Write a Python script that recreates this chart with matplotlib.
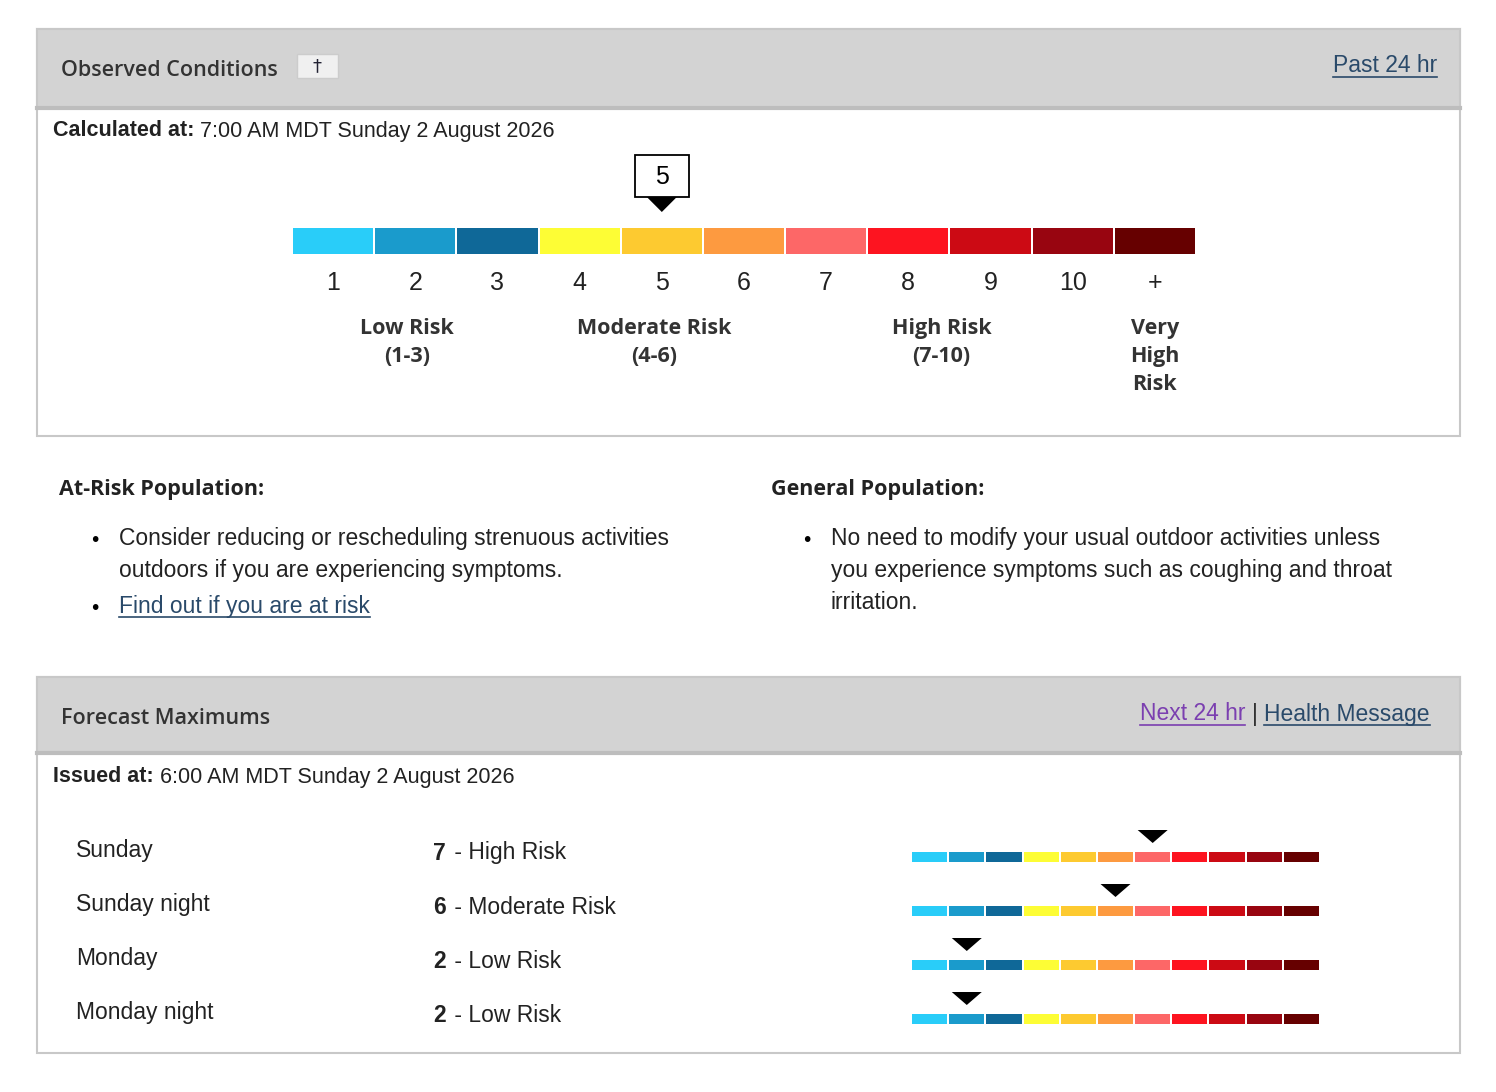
import matplotlib
matplotlib.use("Agg")
import matplotlib.pyplot as plt
from matplotlib.patches import Rectangle, Polygon

categories = ["1","2","3","4","5","6","7","8","9","10","+"]
colors = ["#29cdf9","#1a9bcc","#0f6898","#fdfd35","#fdca30","#fd9a40","#fd6767","#fd1420","#cc0a14","#980510","#660000"]
observed_value = 5
risk_groups = [("Low Risk\n(1-3)", 1, 3), ("Moderate Risk\n(4-6)", 4, 6), ("High Risk\n(7-10)", 7, 10), ("Very\nHigh\nRisk", 11, 11)]
forecast_periods = ["Sunday", "Sunday night", "Monday", "Monday night"]
forecast_values = [7, 6, 2, 2]
forecast_labels = ["High Risk", "Moderate Risk", "Low Risk", "Low Risk"]

fig = plt.figure(figsize=(14.96, 10.92), dpi=100)
ax = fig.add_axes([0, 0, 1, 1])
ax.set_xlim(0, 1496); ax.set_ylim(1092, 0); ax.axis("off")
H = ["Open Sans", "DejaVu Sans"]; B = ["Liberation Sans", "DejaVu Sans"]
dark = "#222222"
fig.canvas.draw()
R = fig.canvas.get_renderer()

def right_edge(t):
    bb = t.get_window_extent(R)
    return ax.transData.inverted().transform((bb.x1, bb.y0))[0]

def left_edge(t):
    bb = t.get_window_extent(R)
    return ax.transData.inverted().transform((bb.x0, bb.y0))[0]

def underline(t, y, color):
    ax.plot([left_edge(t), right_edge(t)], [y, y], color=color, lw=1.2)

def panel(y0, y1, yh):
    ax.add_patch(Rectangle((37, y0), 1423, y1 - y0, fc="white", ec="#c8c8c8", lw=1.5))
    ax.add_patch(Rectangle((37, y0), 1423, yh - y0, fc="#d3d3d3", ec="#c8c8c8", lw=1.5))
    ax.plot([37, 1460], [yh, yh], color="#bdbdbd", lw=3)

FS = 16.5
# Observed panel
panel(29, 436, 108)
ax.text(61, 70, "Observed Conditions", fontsize=15.5, family=H, weight="semibold", color="#333", va="center")
ax.add_patch(Rectangle((297, 54), 41, 24, fc="#f0f0f0", ec="#ccc", lw=1))
ax.text(317, 66, "†", fontsize=13, ha="center", va="center", color="#223")
t = ax.text(1437, 66, "Past 24 hr", fontsize=FS, family=B, ha="right", va="center", color="#2a4a6a")
underline(t, 77, "#2a4a6a")
t = ax.text(53, 131, "Calculated at:", fontsize=15.5, family=B, weight="bold", va="center", color=dark)
ax.text(right_edge(t) + 6, 131, "7:00 AM MDT Sunday 2 August 2026", fontsize=15.5, family=B, va="center", color=dark)

bx0, bw = 292, 904 / 11
for i, (c, lab) in enumerate(zip(colors, categories)):
    ax.add_patch(Rectangle((bx0 + i * bw + 1, 228), bw - 2, 26, fc=c, ec="none"))
    ax.text(bx0 + (i + 0.5) * bw, 283, lab, fontsize=18, family=B, ha="center", va="center", color=dark)
cx = bx0 + (observed_value - 0.5) * bw
ax.add_patch(Rectangle((cx - 27, 155), 54, 42, fc="white", ec="black", lw=1.3))
ax.text(cx, 177, str(observed_value), fontsize=18, family=B, ha="center", va="center")
ax.add_patch(Polygon([(cx - 15, 197), (cx + 15, 197), (cx, 212)], fc="black"))
for lab, a, b in risk_groups:
    x = bx0 + ((a + b) / 2 - 0.5) * bw - 8
    if a == 11:
        x = bx0 + 10.5 * bw
    ax.text(x, 318, lab, fontsize=15.5, family=H, weight="bold", ha="center", va="top", color="#333", linespacing=1.45)

# Middle text
ax.text(59, 489, "At-Risk Population:", fontsize=15.5, family=H, weight="bold", va="center", color=dark)
ax.text(771, 489, "General Population:", fontsize=15.5, family=H, weight="bold", va="center", color=dark)
ax.text(95, 540, "•", fontsize=14, va="center", ha="center")
ax.text(119, 527, "Consider reducing or rescheduling strenuous activities\noutdoors if you are experiencing symptoms.",
        fontsize=FS, family=B, va="top", color=dark, linespacing=1.5)
ax.text(95, 608, "•", fontsize=14, va="center", ha="center")
t = ax.text(119, 606, "Find out if you are at risk", fontsize=FS, family=B, va="center", color="#2a4a6a")
underline(t, 617, "#2a4a6a")
ax.text(807, 540, "•", fontsize=14, va="center", ha="center")
ax.text(831, 527, "No need to modify your usual outdoor activities unless\nyou experience symptoms such as coughing and throat\nirritation.",
        fontsize=FS, family=B, va="top", color=dark, linespacing=1.5)

# Forecast panel
panel(677, 1053, 753)
ax.text(61, 718, "Forecast Maximums", fontsize=15.5, family=H, weight="semibold", color="#333", va="center")
t = ax.text(1430, 714, "Health Message", fontsize=FS, family=B, ha="right", va="center", color="#2a4a6a")
underline(t, 725, "#2a4a6a")
l = left_edge(t)
ax.text(l - 10, 714, "|", fontsize=FS, family=B, ha="center", va="center", color="#333")
t = ax.text(l - 19, 714, "Next 24 hr", fontsize=FS, family=B, ha="right", va="center", color="#7b3fb0")
underline(t, 725, "#7b3fb0")
t = ax.text(53, 777, "Issued at:", fontsize=15.5, family=B, weight="bold", va="center", color=dark)
ax.text(right_edge(t) + 6, 777, "6:00 AM MDT Sunday 2 August 2026", fontsize=15.5, family=B, va="center", color=dark)

sx0, sw = 911, 409 / 11
for r, (per, val, lab) in enumerate(zip(forecast_periods, forecast_values, forecast_labels)):
    y = 852 + r * 54
    ax.text(76, y - 1, per, fontsize=FS, family=B, va="center", color=dark)
    t = ax.text(433, y + 1, str(val), fontsize=FS, family=B, weight="bold", va="center", color=dark)
    ax.text(right_edge(t) + 2, y + 1, " - " + lab, fontsize=FS, family=B, va="center", color=dark)
    for i, c in enumerate(colors):
        ax.add_patch(Rectangle((sx0 + i * sw + 1, y), sw - 2, 10, fc=c, ec="none"))
    mx = sx0 + (val - 0.5) * sw
    ax.add_patch(Polygon([(mx - 15, y - 22), (mx + 15, y - 22), (mx, y - 9)], fc="black"))

fig.savefig("out.png", dpi=100)
